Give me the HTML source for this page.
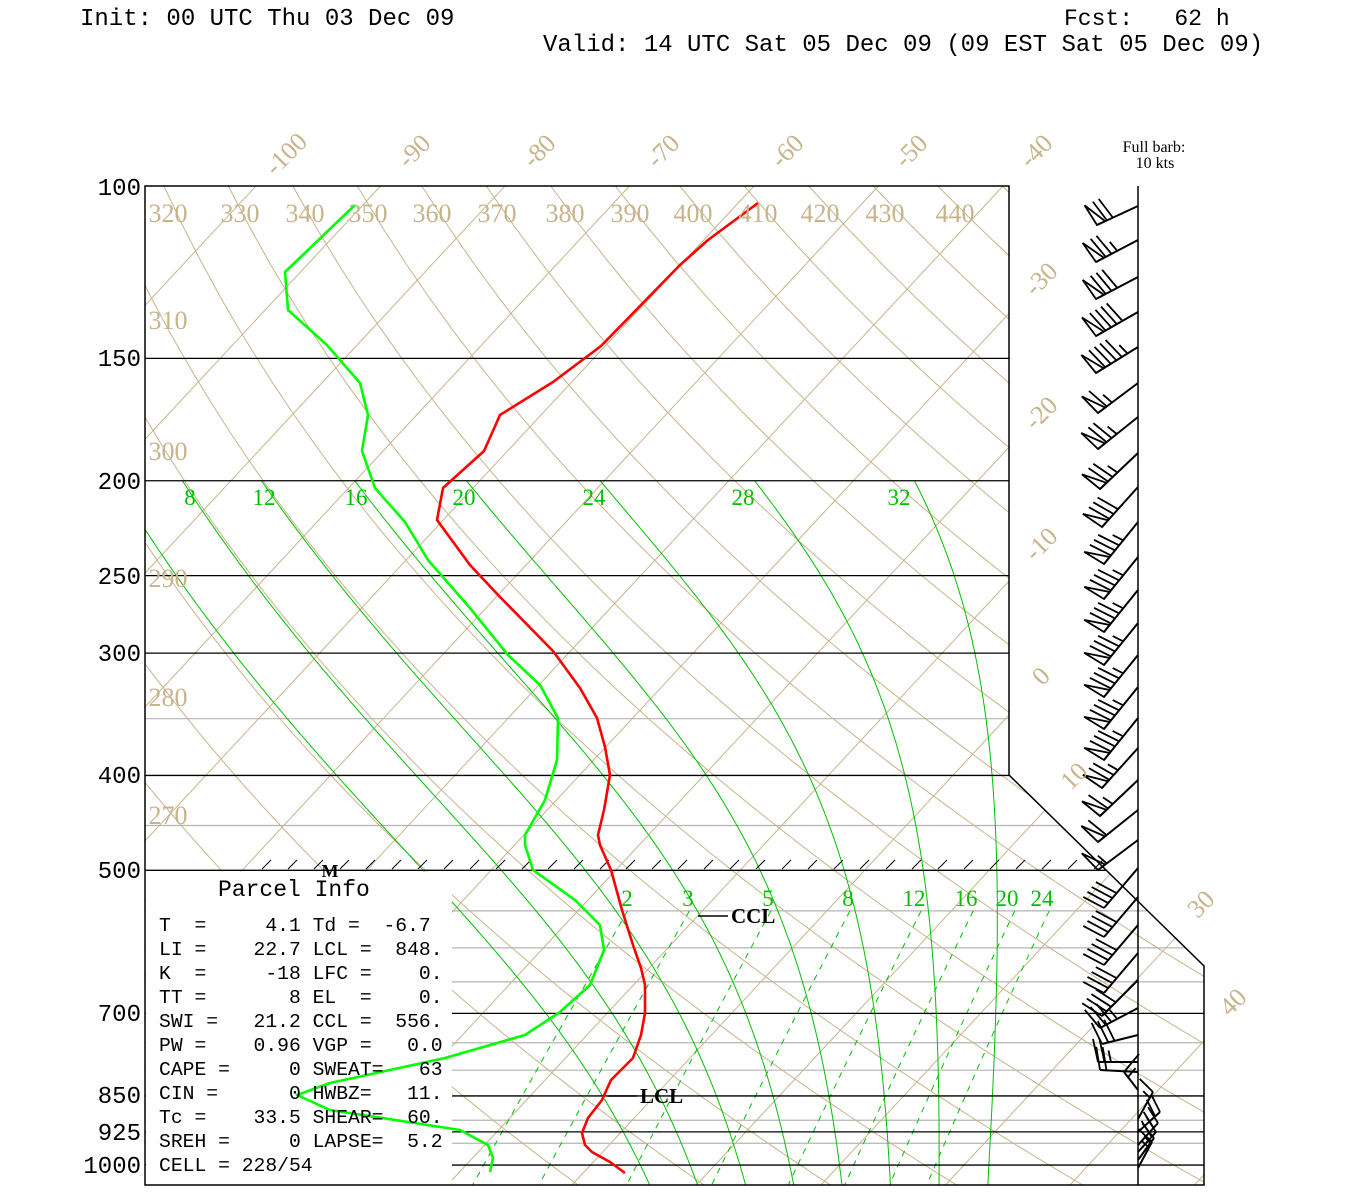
<!DOCTYPE html>
<html><head><meta charset="utf-8">
<style>
html,body{margin:0;padding:0;background:#fff;}
svg{display:block;}
.pre{white-space:pre;}
</style></head>
<body>
<svg id="s" width="1350" height="1200" viewBox="0 0 1350 1200" xmlns="http://www.w3.org/2000/svg">
<defs>
<clipPath id="cp"><polygon points="145,186 1009,186 1009,775 1204,966 1204,1185 145,1185"/></clipPath>
</defs>
<rect width="1350" height="1200" fill="#fff"/>
<g id="bg" clip-path="url(#cp)"></g>
<rect x="146" y="871.5" width="306" height="313" fill="#fff"/>
<g id="fg"></g>

<text x="80" y="25" font-family="Liberation Mono, monospace" font-size="24">Init: 00 UTC Thu 03 Dec 09</text>
<text x="1064" y="25" class="pre" font-family="Liberation Mono, monospace" font-size="23">Fcst:   62 h</text>
<text x="543" y="51" font-family="Liberation Mono, monospace" font-size="24">Valid: 14 UTC Sat 05 Dec 09 (09 EST Sat 05 Dec 09)</text>

<text x="1154" y="152" font-family="Liberation Serif, serif" font-size="16" text-anchor="middle">Full barb:</text>
<text x="1155" y="168" font-family="Liberation Serif, serif" font-size="16" text-anchor="middle">10 kts</text>

<g font-family="Liberation Mono, monospace" font-size="24" text-anchor="end">
<text x="141" y="195">100</text>
<text x="141" y="366">150</text>
<text x="141" y="489">200</text>
<text x="141" y="584">250</text>
<text x="141" y="661">300</text>
<text x="141" y="783">400</text>
<text x="141" y="878">500</text>
<text x="141" y="1021">700</text>
<text x="141" y="1103">850</text>
<text x="141" y="1140">925</text>
<text x="141" y="1173">1000</text>
</g>

<g font-family="Liberation Serif, serif" font-size="26" fill="#c8b48c" text-anchor="middle">
<text x="168" y="222">320</text><text x="240" y="222">330</text><text x="305" y="222">340</text>
<text x="368" y="222">350</text><text x="432" y="222">360</text><text x="497" y="222">370</text>
<text x="565" y="222">380</text><text x="630" y="222">390</text><text x="693" y="222">400</text>
<text x="758" y="222">410</text><text x="820" y="222">420</text><text x="885" y="222">430</text>
<text x="955" y="222">440</text>
<text x="168" y="329">310</text><text x="168" y="460">300</text><text x="168" y="587">290</text>
<text x="168" y="706">280</text><text x="168" y="824">270</text>
</g>

<g font-family="Liberation Serif, serif" font-size="26" fill="#c8b48c" text-anchor="middle">
<text transform="translate(292,160) rotate(-45)">-100</text>
<text transform="translate(420,157) rotate(-45)">-90</text>
<text transform="translate(545,157) rotate(-45)">-80</text>
<text transform="translate(669,157) rotate(-45)">-70</text>
<text transform="translate(793,157) rotate(-45)">-60</text>
<text transform="translate(917,157) rotate(-45)">-50</text>
<text transform="translate(1042,157) rotate(-45)">-40</text>
<text transform="translate(1047,285) rotate(-45)">-30</text>
<text transform="translate(1047,419) rotate(-45)">-20</text>
<text transform="translate(1047,550) rotate(-45)">-10</text>
<text transform="translate(1047,682) rotate(-45)">0</text>
<text transform="translate(1080,782) rotate(-45)">10</text>
<text transform="translate(1207,910) rotate(-45)">30</text>
<text transform="translate(1239,1008) rotate(-45)">40</text>
</g>

<g font-family="Liberation Serif, serif" font-size="23" fill="#00c000" text-anchor="middle">
<text x="190" y="505">8</text><text x="264" y="505">12</text><text x="356" y="505">16</text>
<text x="464" y="505">20</text><text x="594" y="505">24</text><text x="743" y="505">28</text>
<text x="899" y="505">32</text>
<text x="627" y="906">2</text><text x="688" y="906">3</text><text x="768" y="906">5</text>
<text x="848" y="906">8</text><text x="914" y="906">12</text><text x="966" y="906">16</text>
<text x="1007" y="906">20</text><text x="1042" y="906">24</text>
</g>

<text x="330" y="877" font-family="Liberation Serif, serif" font-size="18" font-weight="bold" text-anchor="middle">M</text>

<text x="218" y="896" font-family="Liberation Mono, monospace" font-size="23">Parcel Info</text>
<g font-family="Liberation Mono, monospace" font-size="19.7">
<text class="pre" x="159" y="931">T  =     4.1 Td =  -6.7</text>
<text class="pre" x="159" y="955">LI =    22.7 LCL =  848.</text>
<text class="pre" x="159" y="979">K  =     -18 LFC =    0.</text>
<text class="pre" x="159" y="1003">TT =       8 EL  =    0.</text>
<text class="pre" x="159" y="1027">SWI =   21.2 CCL =  556.</text>
<text class="pre" x="159" y="1051">PW =    0.96 VGP =   0.0</text>
<text class="pre" x="159" y="1075">CAPE =     0 SWEAT=   63</text>
<text class="pre" x="159" y="1099">CIN =      0 HWBZ=   11.</text>
<text class="pre" x="159" y="1123">Tc =    33.5 SHEAR=  60.</text>
<text class="pre" x="159" y="1147">SREH =     0 LAPSE=  5.2</text>
<text class="pre" x="159" y="1171">CELL = 228/54</text>
</g>

<line x1="608" y1="1096" x2="637" y2="1096" stroke="#000" stroke-width="1.5"/>
<text x="640" y="1103" font-family="Liberation Serif, serif" font-size="21" font-weight="bold">LCL</text>
<line x1="698" y1="916" x2="728" y2="916" stroke="#000" stroke-width="1.5"/>
<text x="731" y="923" font-family="Liberation Serif, serif" font-size="21" font-weight="bold">CCL</text>
</svg>
<script>
(function(){
var NS="http://www.w3.org/2000/svg";
var bg=document.getElementById("bg"), fg=document.getElementById("fg");
function el(par,name,at){var e=document.createElementNS(NS,name);for(var k in at)e.setAttribute(k,at[k]);par.appendChild(e);return e;}
function Y(p){return 186+425.2*Math.log(p/100);}
function X(T,y){return 1003+12.45*(T+40)-0.93*(y-186);}
var TAN="#c8b48c", GR="#00c000";
[350,450,550,600,650,750,800,900,950].forEach(function(p){var y=Y(p);el(bg,"line",{x1:145,y1:y,x2:1204,y2:y,stroke:"#b4b4b4","stroke-width":1.2});});
for(var T=-160;T<=60;T+=10){el(bg,"line",{x1:X(T,186),y1:186,x2:X(T,1185),y2:1185,stroke:TAN,"stroke-width":1});}
for(var th=230;th<=460;th+=10){var pts=[];for(var p=90;p<=1060;p+=10){var t=th*Math.pow(p/1000,0.2857)-273.15;var y=Y(p);pts.push(X(t,y).toFixed(1)+","+y.toFixed(1));}
el(bg,"polyline",{points:pts.join(" "),fill:"none",stroke:TAN,"stroke-width":1});}
function es(tc){return 6.112*Math.exp(17.67*tc/(tc+243.5));}
[4,8,12,16,20,24,28,32].forEach(function(tw){
 var Tk=tw+273.15,p=1000,Rd=287,cp=1005,Lv=2.5e6,eps=0.622;
 var up=[];
 while(p>=200){var y=Y(p);up.push([X(Tk-273.15,y),y]);
  var e=es(Tk-273.15),rs=eps*e/(p-e);
  var g=(Rd*Tk+Lv*rs)/(cp+Lv*Lv*rs*eps/(Rd*Tk*Tk))/p;
  Tk-=g*2;p-=2;}
 var Tk2=tw+273.15,p2=1000,dn=[];
 while(p2<=1060){var e2=es(Tk2-273.15),rs2=eps*e2/(p2-e2);
  var g2=(Rd*Tk2+Lv*rs2)/(cp+Lv*Lv*rs2*eps/(Rd*Tk2*Tk2))/p2;Tk2+=g2*2;p2+=2;var y2=Y(p2);dn.push([X(Tk2-273.15,y2),y2]);}
 var all=up.reverse().concat(dn);
 el(bg,"polyline",{points:all.map(function(a){return a[0].toFixed(1)+","+a[1].toFixed(1);}).join(" "),fill:"none",stroke:GR,"stroke-width":1});
});
[2,3,5,8,12,16,20,24].forEach(function(w){var pts=[];for(var p=550;p<=1060;p+=10){var e=w/1000*p/(0.622+w/1000);var l=Math.log(e/6.112);var td=243.5*l/(17.67-l);var y=Y(p);pts.push(X(td,y).toFixed(1)+","+y.toFixed(1));}
el(bg,"polyline",{points:pts.join(" "),fill:"none",stroke:GR,"stroke-width":1,"stroke-dasharray":"6,6"});});
[150,200,250,300,400,500,700,850,925,1000].forEach(function(p){var y=Y(p);el(bg,"line",{x1:145,y1:y,x2:1204,y2:y,stroke:"#000","stroke-width":1.3});});
for(var hx=262;hx<1105;hx+=26){el(fg,"line",{x1:hx,y1:869,x2:hx+9,y2:860,stroke:"#000","stroke-width":1});}
el(fg,"polygon",{points:"145,186 1009,186 1009,775 1204,966 1204,1185 145,1185",fill:"none",stroke:"#000","stroke-width":1.5});
var tp=[[758,203],[708,240],[680,265],[601,346],[553,382],[500,415],[484,451],[443,488],[437,520],[470,565],[500,597],[553,651],[580,688],[597,718],[605,747],[610,775],[604,810],[598,835],[600,845],[611,870],[622,910],[633,945],[641,968],[645,985],[645,1013],[641,1035],[633,1058],[611,1080],[602,1100],[588,1118],[582,1133],[585,1145],[592,1152],[610,1162],[625,1173]];
var dp=[[355,205],[285,272],[288,310],[327,345],[360,383],[368,415],[362,451],[375,488],[405,522],[428,560],[470,608],[508,655],[540,685],[558,718],[557,760],[545,800],[525,835],[525,845],[533,870],[575,900],[600,925],[604,950],[590,985],[560,1012],[525,1035],[445,1058],[330,1083],[297,1095],[330,1110],[460,1130],[488,1145],[493,1158],[490,1172]];
function pl(a,c){el(fg,"polyline",{points:a.map(function(q){return q.join(",");}).join(" "),fill:"none",stroke:c,"stroke-width":2.6,"stroke-linejoin":"round"});}
pl(tp,"#ff0000");pl(dp,"#00ff00");
el(fg,"line",{x1:1138,y1:186,x2:1138,y2:1185,stroke:"#000","stroke-width":1.5});
var B=[[206,-41,19,70],[240,-42,22,75],[277,-42,22,80],[312,-42,24,90],[347,-42,26,95],[383,-40,30,65],[417,-40,32,75],[453,-38,36,75],[487,-36,40,80],[522,-34,42,85],[557,-34,42,85],[590,-34,42,85],[623,-34,42,85],[655,-34,42,85],[687,-34,42,85],[718,-34,42,85],[748,-36,40,75],[780,-38,36,65],[810,-40,32,60],[840,-40,30,55],[868,-34,40,40],[897,-34,40,40],[925,-34,40,40],[953,-34,40,40],[980,-36,36,40],[1008,-38,20,35],[1035,-36,9,30],[1062,-40,0,25],[1072,-38,-2,20],[1090,-14,-18,15],[1119,15,-27,15],[1132,22,-20,20],[1145,20,-22,20],[1152,18,-20,20],[1160,16,-22,15],[1168,14,-26,15]];
B.forEach(function(b){
 var sx=1138,sy=b[0],L=Math.sqrt(b[1]*b[1]+b[2]*b[2]),dx=b[1]/L,dy=b[2]/L;
 var tx=sx+b[1],ty=sy+b[2];
 el(fg,"line",{x1:sx,y1:sy,x2:tx,y2:ty,stroke:"#000","stroke-width":2});
 var px=-dy,py=dx; if(b[1]>0){px=dy;py=-dx;}
 var s=b[3],pos=0,bl=b[1]>0?18:23;
 var n50=Math.floor(s/50);s-=n50*50;var n10=Math.floor(s/10);s-=n10*10;var n5=s>=5?1:0;
 for(var i=0;i<n50;i++){var ax=tx-dx*pos,ay=ty-dy*pos,cx=tx-dx*(pos+9),cy=ty-dy*(pos+9);
  el(fg,"polygon",{points:ax+","+ay+" "+(ax+px*bl+dx*3)+","+(ay+py*bl+dy*3)+" "+cx+","+cy,fill:"none",stroke:"#000","stroke-width":1.8});pos+=11;}
 for(var j=0;j<n10;j++){var bx=tx-dx*pos,by=ty-dy*pos;el(fg,"line",{x1:bx,y1:by,x2:bx+px*bl+dx*5,y2:by+py*bl+dy*5,stroke:"#000","stroke-width":1.8});pos+=6.5;}
 if(n5){var hx2=tx-dx*pos,hy2=ty-dy*pos;el(fg,"line",{x1:hx2,y1:hy2,x2:hx2+px*bl/2+dx*2.5,y2:hy2+py*bl/2+dy*2.5,stroke:"#000","stroke-width":1.8});}
});
})();
</script>
</body></html>
